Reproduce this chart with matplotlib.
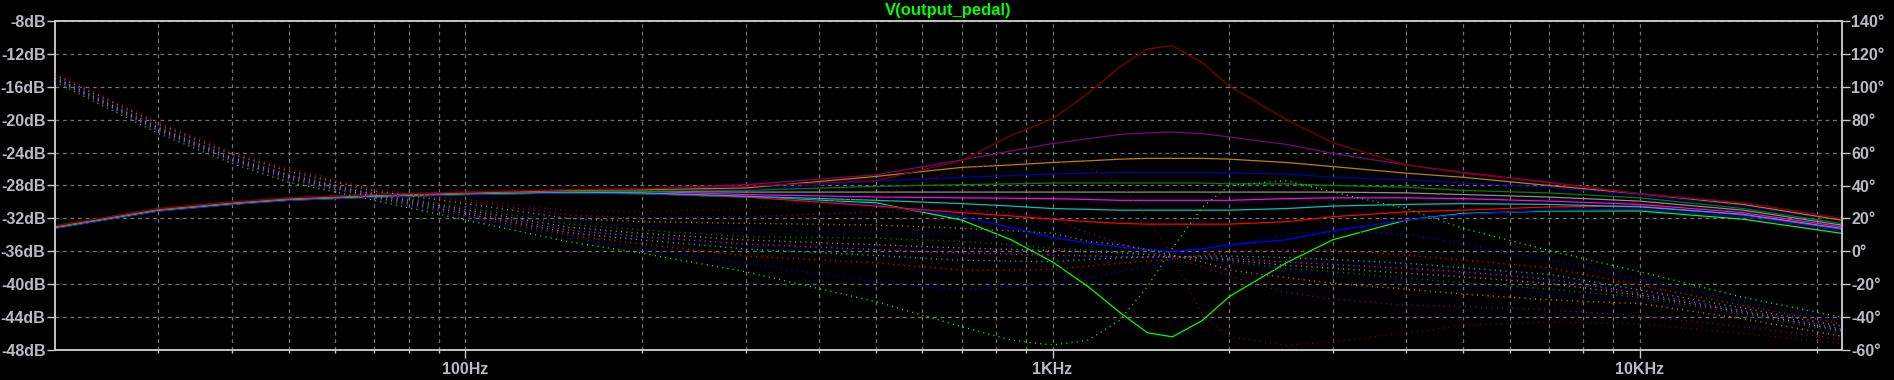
import numpy as np
from matplotlib import pyplot as plt
from matplotlib.ticker import FixedLocator, FixedFormatter, NullFormatter

# frequency points (Hz)
freqs = [20, 30, 40, 50, 70, 100, 150, 200, 300, 500, 700, 850, 1000, 1150, 1300,
         1450, 1600, 1800, 2000, 2500, 3000, 4000, 5000, 7000, 10000, 15000, 22000]

# magnitude in dB, one list per stepped trace
mag_green   = [-33.2, -31.1, -30.3, -29.8, -29.4, -29.1, -28.9, -29.0, -29.4, -30.1, -32.2, -34.6, -37.3, -40.3, -43.4, -45.9, -46.4, -44.4, -41.5, -37.4, -34.6, -32.2, -31.4, -31.1, -31.1, -32.1, -33.8]
mag_blue    = [-33.2, -31.1, -30.3, -29.8, -29.4, -29.1, -28.9, -29.0, -29.4, -30.3, -31.8, -33.1, -34.3, -35.0, -35.5, -35.8, -36.0, -35.7, -35.2, -34.6, -33.5, -32.2, -31.5, -31.0, -30.9, -31.8, -33.5]
mag_red     = [-33.1, -31.0, -30.2, -29.7, -29.3, -29.0, -28.8, -28.9, -29.4, -30.5, -31.3, -31.7, -32.1, -32.4, -32.6, -32.7, -32.7, -32.7, -32.7, -32.4, -31.8, -31.2, -31.0, -30.6, -30.5, -31.6, -33.3]
mag_cyan    = [-33.1, -31.0, -30.2, -29.7, -29.3, -29.0, -28.8, -28.9, -29.3, -29.8, -30.2, -30.5, -30.8, -30.9, -31.0, -31.0, -31.0, -31.0, -31.0, -30.8, -30.5, -30.3, -30.2, -30.3, -30.6, -31.5, -33.2]
mag_magenta = [-33.0, -30.9, -30.1, -29.6, -29.2, -28.9, -28.7, -28.7, -29.1, -29.4, -29.5, -29.55, -29.6, -29.7, -29.8, -29.8, -29.8, -29.8, -29.8, -29.6, -29.5, -29.5, -29.6, -29.9, -30.3, -31.3, -33.0]
mag_gray    = [-33.0, -30.9, -30.1, -29.6, -29.2, -28.9, -28.7, -28.7, -28.8, -28.8, -28.8, -28.8, -28.8, -28.8, -28.8, -28.8, -28.8, -28.8, -28.8, -28.8, -28.8, -28.9, -29.1, -29.4, -29.9, -31.0, -32.8]
mag_dkgreen = [-33.0, -30.9, -30.1, -29.6, -29.2, -28.9, -28.7, -28.7, -28.6, -28.1, -27.9, -27.8, -27.7, -27.7, -27.7, -27.7, -27.7, -27.7, -27.8, -27.8, -28.0, -28.2, -28.6, -28.9, -29.5, -30.8, -32.6]
mag_dkblue  = [-33.0, -30.9, -30.1, -29.6, -29.2, -28.9, -28.6, -28.5, -28.5, -27.5, -27.0, -26.8, -26.6, -26.5, -26.4, -26.4, -26.4, -26.4, -26.5, -26.6, -27.0, -27.3, -27.7, -28.2, -29.2, -30.5, -32.3]
mag_orange  = [-33.0, -30.9, -30.1, -29.6, -29.2, -28.9, -28.6, -28.5, -28.3, -26.9, -25.8, -25.5, -25.2, -25.0, -24.8, -24.7, -24.7, -24.7, -24.8, -25.2, -25.7, -26.5, -27.0, -28.0, -29.0, -30.3, -32.2]
mag_purple  = [-32.9, -30.8, -30.0, -29.5, -29.1, -28.8, -28.5, -28.4, -27.9, -26.7, -24.9, -23.8, -22.9, -22.3, -21.8, -21.6, -21.5, -21.7, -22.1, -23.0, -24.1, -25.5, -26.4, -27.6, -29.0, -30.1, -32.0]
mag_darkred = [-32.9, -30.8, -30.0, -29.5, -29.1, -28.8, -28.5, -28.4, -28.1, -27.4, -25.0, -21.9, -19.9, -16.8, -13.6, -11.4, -11.0, -13.1, -15.9, -20.0, -22.8, -25.5, -26.5, -27.7, -29.0, -30.1, -32.0]

# phase in degrees
ph_green   = [103.0, 71.7, 53.5, 42.0, 31.0, 19.0, 5.8, -1.2, -12.4, -30.6, -45.8, -54.0, -57.0, -54.0, -42.0, -21.5, 2.0, 27.0, 40.0, 43.0, 36.0, 26.0, 14.0, 0.5, -12.4, -28.0, -40.0]
ph_blue    = [103.5, 72.4, 54.2, 42.9, 31.7, 20.3, 7.9, 1.8, -7.3, -18.5, -23.5, -21.5, -19.5, -16.4, -12.4, -9.0, -5.3, -1.2, 2.8, 10.5, 12.0, 10.5, 4.5, -5.0, -17.4, -30.6, -42.0]
ph_red     = [104.0, 73.1, 54.9, 43.7, 32.4, 21.5, 9.9, 4.4, -2.9, -7.0, -11.4, -11.5, -11.0, -9.0, -7.3, -6.0, -4.7, -2.5, -0.2, 0.8, 0.8, -2.3, -5.3, -10.0, -20.5, -33.0, -44.0]
ph_cyan    = [104.6, 73.8, 55.6, 44.6, 33.1, 22.8, 11.3, 6.9, 1.4, -2.5, -5.5, -6.0, -6.3, -5.0, -4.0, -3.6, -3.3, -3.0, -2.9, -3.8, -5.0, -7.3, -10.0, -14.0, -23.5, -34.5, -45.5]
ph_magenta = [105.1, 74.5, 56.3, 45.4, 33.8, 24.0, 12.9, 8.9, 4.4, 1.0, -1.0, -1.7, -2.3, -2.8, -3.3, -3.3, -3.3, -3.8, -4.3, -6.5, -8.0, -10.3, -12.5, -17.0, -25.5, -36.0, -47.0]
ph_gray    = [105.6, 75.2, 57.0, 46.2, 34.5, 25.3, 14.6, 10.9, 6.9, 4.0, 2.0, 1.2, 0.4, -0.3, -0.9, -2.0, -2.9, -4.0, -5.3, -8.5, -10.3, -13.4, -15.5, -19.5, -26.6, -37.0, -48.0]
ph_dkgreen = [106.1, 76.0, 57.7, 47.1, 35.2, 26.5, 16.6, 12.9, 8.9, 8.0, 6.0, 4.0, 1.8, 0.8, -0.2, -1.5, -2.9, -4.5, -6.3, -10.5, -12.4, -16.4, -19.0, -23.0, -28.0, -38.0, -49.0]
ph_dkblue  = [106.6, 76.7, 58.4, 47.9, 35.9, 27.8, 18.0, 15.4, 13.4, 11.3, 10.5, 9.8, 9.0, 6.5, 4.0, 1.5, -1.0, -3.5, -7.0, -12.0, -14.5, -18.0, -21.0, -25.5, -29.6, -39.0, -50.0]
ph_orange  = [107.2, 77.4, 59.1, 48.8, 36.6, 29.0, 20.0, 18.0, 17.0, 16.0, 14.0, 12.5, 11.0, 6.0, 4.0, 1.0, -2.5, -6.5, -11.4, -16.0, -19.5, -23.0, -26.0, -29.5, -31.8, -41.0, -51.5]
ph_purple  = [107.7, 78.1, 59.8, 49.6, 37.3, 30.3, 22.1, 20.4, 21.0, 24.0, 25.0, 23.5, 20.0, 11.0, 5.0, 0.0, -4.0, -9.5, -15.0, -25.0, -29.0, -32.8, -33.5, -35.5, -39.3, -45.8, -53.5]
ph_darkred = [108.2, 78.8, 60.5, 50.5, 38.0, 31.5, 24.7, 24.1, 25.7, 33.0, 50.0, 54.0, 56.0, 51.0, 42.0, 20.0, -3.0, -39.0, -52.0, -57.0, -55.0, -49.5, -45.0, -43.0, -44.0, -50.0, -56.0]

traces = [
    ("#00FF00", mag_green, ph_green),
    ("#0000FF", mag_blue, ph_blue),
    ("#FF0000", mag_red, ph_red),
    ("#00C0C0", mag_cyan, ph_cyan),
    ("#FF00FF", mag_magenta, ph_magenta),
    ("#909090", mag_gray, ph_gray),
    ("#008000", mag_dkgreen, ph_dkgreen),
    ("#0000B0", mag_dkblue, ph_dkblue),
    ("#C08000", mag_orange, ph_orange),
    ("#800080", mag_purple, ph_purple),
    ("#800000", mag_darkred, ph_darkred),
]

db_ticks = list(range(-48, -7, 4))
deg_ticks = list(range(-60, 141, 20))
minor_f = [30, 40, 50, 60, 70, 80, 90, 200, 300, 400, 500, 600, 700, 800, 900,
           2000, 3000, 4000, 5000, 6000, 7000, 8000, 9000, 20000]

txt = "#B8BCC2"
frame = "#C8C8C8"
font = "Liberation Sans"

fig = plt.figure(figsize=(18.94, 3.80), dpi=100, facecolor="black")
ax = fig.add_axes([55 / 1894, 1 - 350 / 380, (1842 - 55) / 1894, (350 - 21) / 380])
ax.set_facecolor("black")
ax2 = ax.twinx()

for color, mag, ph in traces:
    ax.plot(freqs, mag, color=color, lw=0.9)
    ax2.plot(freqs, ph, color=color, lw=1.0, linestyle=(0, (0.8, 3.0)))

ax.set_xscale("log")
ax.set_xlim(20, 22100)
ax.set_ylim(-48, -8)
ax2.set_ylim(-60, 140)

ax.xaxis.set_major_locator(FixedLocator([100, 1000, 10000]))
ax.xaxis.set_major_formatter(FixedFormatter(["100Hz", "1KHz", "10KHz"]))
ax.xaxis.set_minor_locator(FixedLocator(minor_f))
ax.xaxis.set_minor_formatter(NullFormatter())
ax.set_yticks(db_ticks)
ax.set_yticklabels(["%ddB" % v for v in db_ticks])
ax2.set_yticks(deg_ticks)
ax2.set_yticklabels(["%d\u00b0" % v for v in deg_ticks])

ax.grid(True, which="both", axis="x", color="#727272", linestyle=(0, (3, 3)), lw=0.9)
ax.grid(True, which="major", axis="y", color="#727272", linestyle=(0, (3, 3)), lw=0.9)
ax.set_axisbelow(True)

ax.tick_params(axis="x", which="major", length=6, width=1, color=frame, pad=3,
               labelsize=11.5, labelcolor=txt)
ax.tick_params(axis="x", which="minor", length=2.2, width=1, color=frame)
ax.tick_params(axis="y", length=5.8, width=1, color=frame, pad=1,
               labelsize=11.5, labelcolor=txt)
ax2.tick_params(axis="y", length=5.8, width=1, color=frame, pad=1,
                labelsize=11.5, labelcolor=txt)

for a in (ax, ax2):
    for s in a.spines.values():
        s.set_color(frame)
        s.set_linewidth(1.1)
    for lab in a.get_xticklabels() + a.get_yticklabels():
        lab.set_fontfamily(font)
        lab.set_fontweight("bold")

fig.text(948 / 1894, 1 - 10 / 380, "V(output_pedal)", color="#00FF00",
         fontsize=12, fontweight="bold", family=font, ha="center", va="center")

fig.savefig("out.png", dpi=100, facecolor="black")
